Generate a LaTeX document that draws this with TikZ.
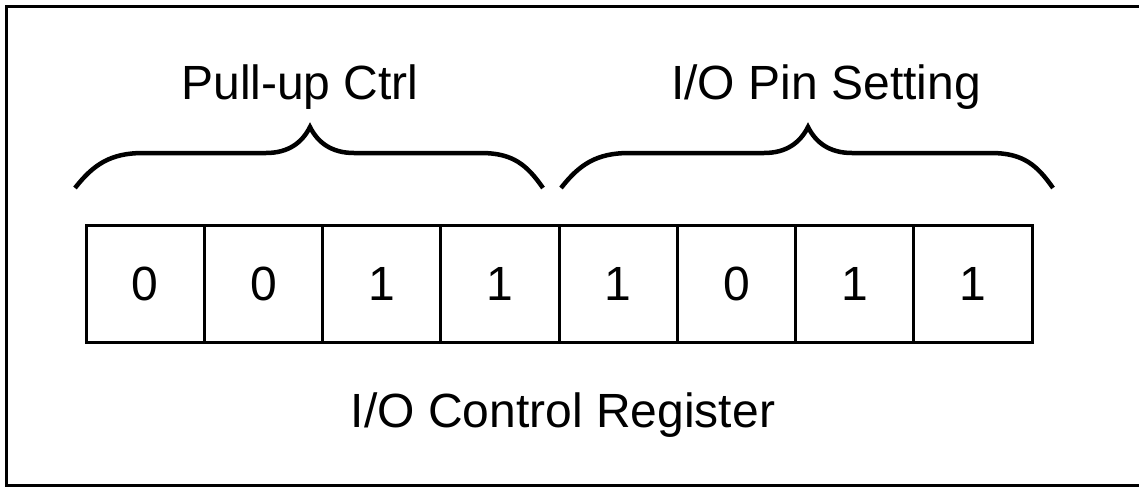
\documentclass[tikz,border=0pt]{standalone}
\usepackage{fontspec}
\setmainfont{Liberation Sans}
\begin{document}
\begin{tikzpicture}[x=1pt,y=-1pt,
  cell/.style={draw=black,line width=3pt,minimum width=118.25pt,minimum height=117pt,inner sep=0pt,font=\fontsize{48}{58}\selectfont},
  label/.style={anchor=base,inner sep=0pt,font=\fontsize{48}{58}\selectfont},
  bracestyle/.style={draw=black,line width=4.5pt},
  frame/.style={draw=black,line width=3pt}]
\useasboundingbox (0,0) rectangle (1139,487);
\fill[white] (0,0) rectangle (1139,487);
\draw[frame] (1139,7) -- (6,7) -- (6,485) -- (1139,485);
% register cells
\foreach \v [count=\i from 0] in {0,0,1,1,1,0,1,1}{
  \node[cell] (c\i) at ({86+118.25*(\i+0.5)},283.5) {\v};
}
% labels
\node[label] (pull) at (300,99) {Pull-up Ctrl};
\node[label] (pin) at (826,99) {I/O Pin Setting};
\node[label] (reg) at (563,427) {I/O Control Register};
% braces
\foreach \a/\p/\b in {75/310/543, 561/808/1053}{
  \draw[bracestyle] (\a,188) .. controls (\a+18,165) and (\a+35,153) .. (\a+68,153)
    -- (\p-44,153) .. controls (\p-22,153) and (\p-8,143) .. (\p,127)
    .. controls (\p+8,143) and (\p+22,153) .. (\p+44,153)
    -- (\b-62,153) .. controls (\b-30,153) and (\b-16,165) .. (\b,188);
}
\end{tikzpicture}
\end{document}
